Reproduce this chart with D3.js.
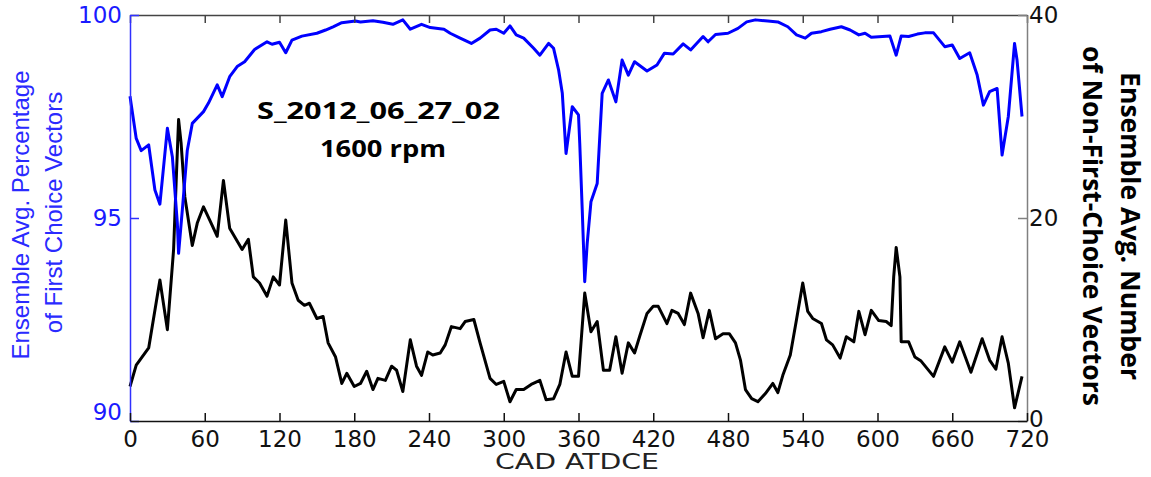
<!DOCTYPE html>
<html>
<head>
<meta charset="utf-8">
<script src="https://cdn.jsdelivr.net/npm/d3@7.9.0/dist/d3.min.js"></script>
<style>
  body { margin: 0; background: #fff; }
  svg { display: block; }
</style>
</head>
<body>
<svg id="chart" width="1151" height="477"></svg>
<script>
// blue series: [CAD, % first choice vectors]
const firstChoice = [
  [0, 98.0], [5, 96.96], [9, 96.66], [15, 96.8], [20, 95.69], [24, 95.34],
  [30, 97.21], [34, 96.51], [38, 94.87], [39, 94.13], [42, 95.2], [46, 96.67],
  [50, 97.33], [59, 97.62], [63, 97.83], [70, 98.28], [74, 97.99], [80, 98.48],
  [86, 98.73], [92, 98.85], [100, 99.15], [110, 99.34], [114, 99.28], [120, 99.33],
  [125, 99.07], [130, 99.38], [138, 99.48], [150, 99.55], [157, 99.63], [163, 99.71],
  [170, 99.81], [181, 99.85], [185, 99.83], [195, 99.86], [203, 99.82], [211, 99.77],
  [219, 99.88], [225, 99.65], [234, 99.77], [241, 99.69], [252, 99.65], [257, 99.55],
  [265, 99.43], [274, 99.3], [281, 99.43], [289, 99.63], [294, 99.65], [300, 99.55],
  [305, 99.73], [310, 99.51], [316, 99.43], [324, 99.18], [329, 99.01], [336, 99.3],
  [340, 99.18], [344, 98.65], [347, 98.07], [350, 96.59], [355, 97.74], [360, 97.54],
  [361, 96.84], [363, 95.2], [365, 93.43], [367, 94.38], [370, 95.4], [375, 95.85],
  [379, 98.07], [384, 98.4], [390, 97.86], [395, 98.89], [400, 98.52], [405, 98.85],
  [415, 98.62], [423, 98.77], [429, 99.06], [436, 99.04], [444, 99.29], [450, 99.14],
  [460, 99.47], [464, 99.34], [470, 99.52], [480, 99.55], [488, 99.67], [495, 99.83],
  [502, 99.88], [512, 99.85], [520, 99.83], [528, 99.71], [535, 99.51], [542, 99.43],
  [547, 99.55], [555, 99.59], [562, 99.65], [571, 99.71], [578, 99.63], [585, 99.51],
  [590, 99.55], [595, 99.45], [610, 99.48], [615, 99.01], [619, 99.48], [625, 99.47],
  [632, 99.53], [638, 99.56], [645, 99.56], [654, 99.22], [660, 99.26], [666, 98.93],
  [674, 99.07], [680, 98.52], [685, 97.78], [690, 98.11], [696, 98.19], [700, 96.55],
  [705, 97.5], [710, 99.3], [712, 98.89], [716, 97.5]
];

// black series: [CAD, number of non-first-choice vectors]
const nonFirstChoice = [
  [0, 3.4], [5, 5.5], [15, 7.2], [20, 10.9], [24, 13.9], [30, 9.0], [35, 16.9],
  [37, 23.4], [39, 29.7], [41, 27.4], [44, 22.1], [50, 17.3], [54, 19.5], [59, 21.1],
  [64, 19.8], [70, 18.2], [75, 23.7], [80, 19.0], [90, 16.9], [95, 17.9], [99, 14.2],
  [104, 13.6], [110, 12.3], [115, 14.2], [120, 13.4], [125, 19.8], [130, 13.6],
  [135, 11.9], [140, 11.4], [144, 11.6], [150, 10.1], [155, 10.3], [159, 7.7],
  [165, 6.3], [170, 3.7], [174, 4.7], [180, 3.4], [185, 3.7], [190, 4.9], [195, 3.1],
  [199, 4.2], [205, 4.0], [210, 5.4], [214, 5.0], [219, 2.9], [225, 8.0], [230, 5.4],
  [234, 4.5], [239, 6.8], [243, 6.5], [249, 6.7], [253, 7.5], [258, 9.3], [265, 9.1],
  [269, 9.8], [276, 10.0], [281, 7.7], [289, 4.2], [294, 3.6], [300, 3.9], [305, 1.9],
  [310, 3.1], [316, 3.1], [322, 3.6], [329, 4.0], [334, 2.1], [340, 2.2], [345, 3.6],
  [350, 6.8], [355, 4.4], [360, 4.4], [365, 12.6], [370, 8.8], [375, 9.8], [380, 5.0],
  [385, 5.0], [390, 8.3], [395, 4.7], [400, 7.7], [405, 6.7], [409, 8.3], [415, 10.6],
  [420, 11.3], [424, 11.3], [431, 9.6], [435, 10.9], [440, 10.6], [445, 9.5],
  [450, 12.6], [456, 10.6], [460, 8.2], [465, 10.9], [470, 8.1], [476, 8.6], [481, 8.6],
  [486, 7.7], [490, 6.0], [494, 3.1], [499, 2.2], [504, 1.9], [510, 2.7], [516, 3.7],
  [520, 2.8], [524, 4.5], [530, 6.5], [535, 10.0], [540, 13.6], [544, 10.8],
  [548, 10.1], [555, 9.6], [559, 8.0], [564, 7.5], [570, 6.2], [575, 8.3], [581, 7.8],
  [585, 10.8], [590, 8.5], [595, 10.9], [601, 9.9], [607, 9.8], [611, 9.4], [613, 14.2],
  [615, 17.1], [618, 14.2], [619, 7.8], [625, 7.8], [630, 6.3], [635, 5.9], [645, 4.4],
  [654, 7.3], [660, 5.8], [666, 7.8], [675, 4.8], [684, 8.1], [690, 6.0], [695, 5.1],
  [700, 8.3], [705, 5.7], [710, 1.3], [716, 4.4]
];

const xTicks = [0, 60, 120, 180, 240, 300, 360, 420, 480, 540, 600, 660, 720];
const leftTicks = [90, 95, 100];
const rightTicks = [0, 20, 40];

const svg = d3.select('#chart');
const plotL = 130, plotR = 1027, plotT = 15, plotB = 421;
const tickFont = '"DejaVu Sans", sans-serif';

const x = d3.scaleLinear().domain([0, 720]).range([plotL, plotR]);
const yL = d3.scaleLinear().domain([90, 100]).range([plotB, plotT]);
const yR = d3.scaleLinear().domain([0, 40]).range([plotB, plotT]);

// data lines (black under blue)
svg.append('path')
  .datum(nonFirstChoice)
  .attr('fill', 'none')
  .attr('stroke', '#000')
  .attr('stroke-width', 3)
  .attr('stroke-linejoin', 'round')
  .attr('d', d3.line().x(d => x(d[0])).y(d => yR(d[1])));

svg.append('path')
  .datum(firstChoice)
  .attr('fill', 'none')
  .attr('stroke', '#0000ff')
  .attr('stroke-width', 3)
  .attr('stroke-linejoin', 'round')
  .attr('d', d3.line().x(d => x(d[0])).y(d => yL(d[1])));

// top border with ticks
const topAxis = svg.append('g')
  .attr('transform', `translate(0,${plotT})`)
  .call(d3.axisTop(x).tickValues(xTicks).tickSize(-8).tickSizeOuter(0).tickFormat(''));
topAxis.selectAll('path, line').attr('stroke', '#444').attr('stroke-width', 1.5);

// right axis
const rightAxis = svg.append('g')
  .attr('transform', `translate(${plotR},0)`)
  .call(d3.axisRight(yR).tickValues(rightTicks).tickSize(-9).tickSizeOuter(0).tickPadding(2));
rightAxis.selectAll('path, line').attr('stroke', '#808080').attr('stroke-width', 1.5);
rightAxis.selectAll('text')
  .attr('font-family', tickFont).attr('font-size', 23).attr('fill', '#111');
rightAxis.selectAll('text').filter(d => d === 0).attr('dy', '0.25em');

// left axis (blue)
const leftAxis = svg.append('g')
  .attr('transform', `translate(${plotL},0)`)
  .call(d3.axisLeft(yL).tickValues(leftTicks).tickSize(-9).tickSizeOuter(0).tickPadding(8));
leftAxis.selectAll('path, line').attr('stroke', '#3030ff').attr('stroke-width', 1.5);
leftAxis.selectAll('text')
  .attr('font-family', tickFont).attr('font-size', 23).attr('fill', '#1a1aff');
leftAxis.selectAll('text').filter(d => d === 90).attr('dy', '-0.05em');

// bottom axis
const bottomAxis = svg.append('g')
  .attr('transform', `translate(0,${plotB})`)
  .call(d3.axisBottom(x).tickValues(xTicks).tickSize(-8).tickSizeOuter(0).tickPadding(10));
bottomAxis.selectAll('path, line').attr('stroke', '#111').attr('stroke-width', 1.5);
bottomAxis.selectAll('text')
  .attr('font-family', tickFont).attr('font-size', 23).attr('fill', '#111');

// axis titles
svg.append('text')
  .attr('x', 577).attr('y', 469)
  .attr('text-anchor', 'middle')
  .attr('font-family', tickFont).attr('font-size', 22).attr('fill', '#222')
  .attr('textLength', 164).attr('lengthAdjust', 'spacingAndGlyphs')
  .text('CAD ATDCE');

const leftTitle = ['Ensemble Avg. Percentage', 'of First Choice Vectors'];
const leftBase = [29, 62], leftMid = [215, 212.5];
leftTitle.forEach((t, i) => {
  svg.append('text')
    .attr('transform', `translate(${leftBase[i]},${leftMid[i]}) rotate(-90)`)
    .attr('text-anchor', 'middle')
    .attr('font-family', '"Liberation Sans", Arial, sans-serif')
    .attr('font-size', 24).attr('fill', '#2a2aff')
    .text(t);
});

const rightTitle = ['Ensemble Avg. Number', 'of Non-First-Choice Vectors'];
const rightBase = [1121, 1083], rightLen = [308, 360];
rightTitle.forEach((t, i) => {
  svg.append('text')
    .attr('transform', `translate(${rightBase[i]},226) rotate(90)`)
    .attr('text-anchor', 'middle')
    .attr('font-family', '"Open Sans", sans-serif')
    .attr('font-weight', 'bold')
    .attr('font-size', 27).attr('fill', '#000')
    .attr('textLength', rightLen[i]).attr('lengthAdjust', 'spacingAndGlyphs')
    .text(t);
});

// annotation
svg.append('text')
  .attr('x', 378.5).attr('y', 119)
  .attr('text-anchor', 'middle')
  .attr('font-family', '"Open Sans", sans-serif')
  .attr('font-weight', 'bold').attr('font-size', 24).attr('fill', '#000')
  .attr('textLength', 243).attr('lengthAdjust', 'spacingAndGlyphs')
  .text('S_2012_06_27_02');

svg.append('text')
  .attr('x', 383).attr('y', 157)
  .attr('text-anchor', 'middle')
  .attr('font-family', '"Open Sans", sans-serif')
  .attr('font-weight', 'bold').attr('font-size', 24).attr('fill', '#000')
  .attr('textLength', 126).attr('lengthAdjust', 'spacingAndGlyphs')
  .text('1600 rpm');
</script>
</body>
</html>
